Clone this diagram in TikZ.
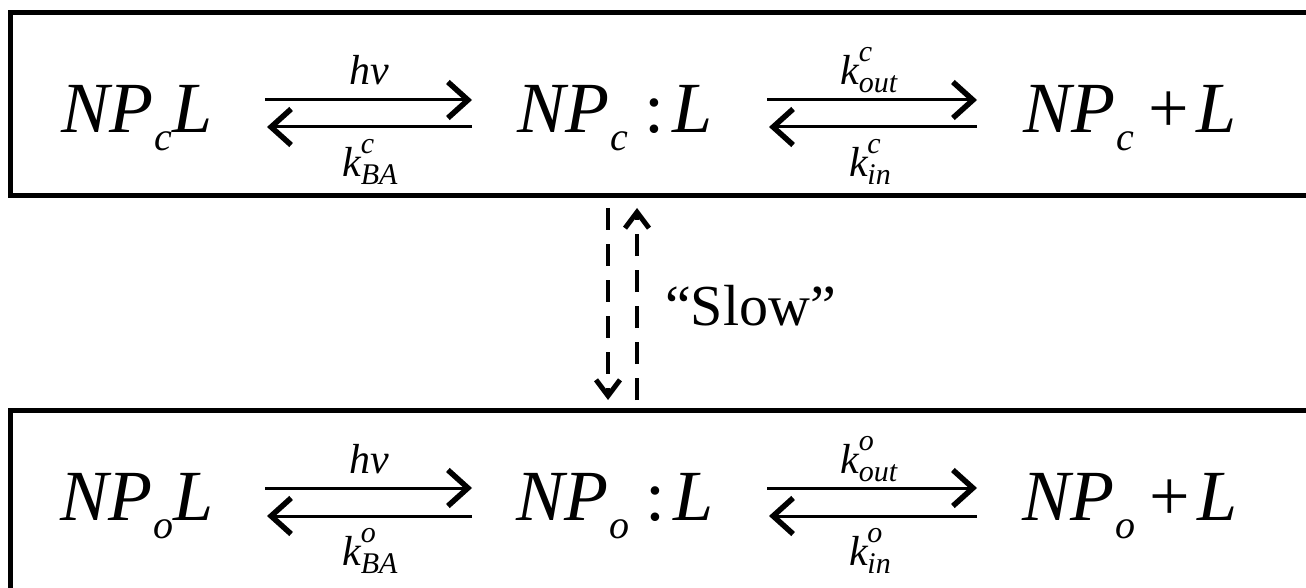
\documentclass[tikz,border=0pt]{standalone}
\usepackage{fontspec}
\setmainfont{Liberation Serif}
\usetikzlibrary{arrows.meta}
\newcommand{\subsc}[1]{\kern1pt\raisebox{-18pt}{\fontsize{40}{40}\selectfont\itshape #1}}
\newcommand{\rate}[2]{\textit{k}\kern-1pt\makebox[0pt][l]{\raisebox{23pt}{\fontsize{30}{30}\selectfont\itshape #1}}\raisebox{-8pt}{\fontsize{30}{30}\selectfont\itshape #2}}
\begin{document}
\begin{tikzpicture}[x=1pt,y=-1pt,
  species/.style={anchor=base,inner sep=0pt,font=\fontsize{72}{72}\selectfont},
  lbl/.style={anchor=base,inner sep=0pt,font=\fontsize{42}{42}\selectfont},
  rxn/.style={line width=3pt,-{Straight Barb[length=20pt,width=36pt,line width=5.5pt]}},
  boxline/.style={line width=5pt},
  slowarr/.style={line width=4pt,dash pattern=on 22pt off 14pt,-{Straight Barb[length=16pt,width=24pt,line width=5pt]}}
]
\useasboundingbox (0,0) rectangle (1306,588);
% boxes
\draw[boxline] (1306,12.5) -- (10,12.5) -- (10,195.5) -- (1306,195.5);
\draw[boxline] (1306,410) -- (10,410) -- (10,588);
% top species
\node[species] (a1) at (137,133) {\textit{NP}\subsc{c}\textit{L}};
\node[species] (b1) at (615,133) {\textit{NP}\subsc{c}\hspace{16pt}:\hspace{8pt}\textit{L}};
\node[species] (c1) at (1130,133) {\textit{NP}\subsc{c}\hspace{14pt}+\hspace{8pt}\textit{L}};
% bottom species
\node[species] (a2) at (137,520) {\textit{NP}\subsc{o}\textit{L}};
\node[species] (b2) at (615,520) {\textit{NP}\subsc{o}\hspace{16pt}:\hspace{8pt}\textit{L}};
\node[species] (c2) at (1130,520) {\textit{NP}\subsc{o}\hspace{14pt}+\hspace{8pt}\textit{L}};
% arrow end coordinates
\coordinate (t1s) at (265,100); \coordinate (t1e) at (472,100);
\coordinate (t1r) at (472,127); \coordinate (t1l) at (267,127);
\coordinate (t2s) at (767,100); \coordinate (t2e) at (977,100);
\coordinate (t2r) at (977,127); \coordinate (t2l) at (769,127);
\coordinate (u1s) at (265,488); \coordinate (u1e) at (472,488);
\coordinate (u1r) at (472,516); \coordinate (u1l) at (267,516);
\coordinate (u2s) at (767,488); \coordinate (u2e) at (977,488);
\coordinate (u2r) at (977,516); \coordinate (u2l) at (769,516);
\draw[rxn] (t1s) -- (t1e);
\draw[rxn] (t1r) -- (t1l);
\draw[rxn] (t2s) -- (t2e);
\draw[rxn] (t2r) -- (t2l);
\draw[rxn] (u1s) -- (u1e);
\draw[rxn] (u1r) -- (u1l);
\draw[rxn] (u2s) -- (u2e);
\draw[rxn] (u2r) -- (u2l);
% labels
\node[lbl] (h1) at (369,85) {\textit{hν}};
\node[lbl] (k1) at (370,177) {\rate{c}{BA}};
\node[lbl] (k2) at (869,85) {\rate{c}{out}};
\node[lbl] (k3) at (870,177) {\rate{c}{in}};
\node[lbl] (h2) at (369,473) {\textit{hν}};
\node[lbl] (k4) at (370,565) {\rate{o}{BA}};
\node[lbl] (k5) at (869,473) {\rate{o}{out}};
\node[lbl] (k6) at (870,565) {\rate{o}{in}};
% slow arrows
\coordinate (d1) at (608,208); \coordinate (d2) at (608,400);
\coordinate (e1) at (637,400); \coordinate (e2) at (637,208);
\draw[slowarr] (d1) -- (d2);
\draw[slowarr] (e1) -- (e2);
\node[anchor=base west,inner sep=0pt,font=\fontsize{58}{58}\selectfont] (slow) at (665,325) {“Slow”};
\end{tikzpicture}
\end{document}
